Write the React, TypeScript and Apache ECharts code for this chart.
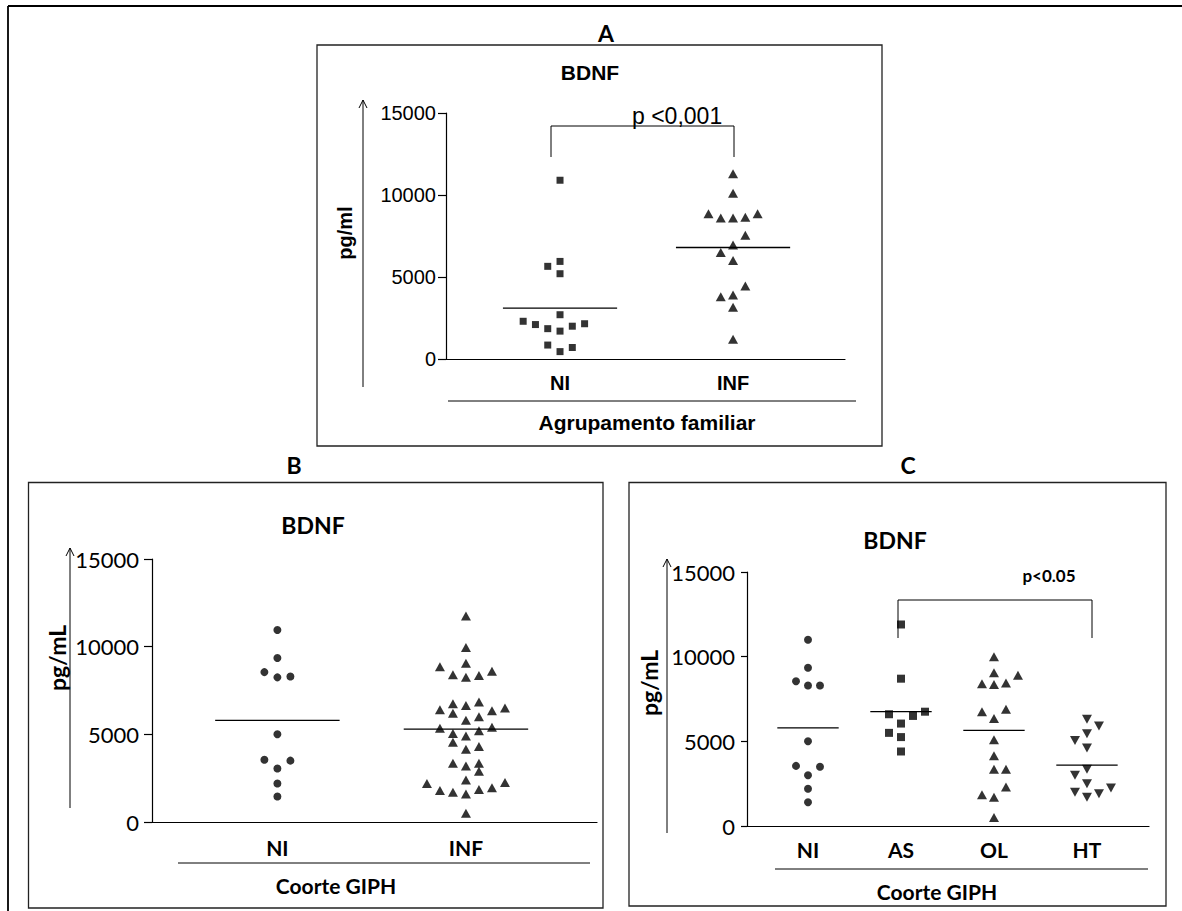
import React, { useEffect, useRef } from "react";
import * as echarts from "echarts";

// ---------- data ----------
const Y_MIN = 0;
const Y_MAX = 15000;
const Y_STEP = 5000;

const A_CATS = ["NI", "INF"];
const B_CATS = ["NI", "INF"];
const C_CATS = ["NI", "AS", "OL", "HT"];

// [column offset (jitter slot), value pg/ml]
const A_NI = [[0, 10900], [-1, 5650], [0, 5950], [0, 5200], [0, 2700], [-3, 2300], [-2, 2100], [-1, 1850], [0, 1700], [1, 2000], [2, 2150], [-1, 850], [1, 700], [0, 450]];
const A_INF = [[0, 11300], [0, 10100], [-2, 8850], [-1, 8600], [0, 8600], [1, 8650], [2, 8850], [1, 7550], [0, 6950], [-1, 6500], [0, 6000], [1, 4450], [-1, 3800], [0, 3900], [0, 3150], [0, 1200]];
const A_MEANS = [3100, 6800];

const B_NI = [[0, 10950], [0, 9350], [-1, 8550], [0, 8250], [1, 8300], [0, 5000], [-1, 3550], [1, 3500], [0, 3050], [0, 2200], [0, 1450]];
const B_INF = [[0, 11750], [0, 9950], [-2, 8850], [0, 9050], [2, 8600], [-1, 8400], [0, 8250], [1, 8350], [-2, 6400], [-1, 6750], [0, 6650], [1, 6850], [2, 6350], [3, 6500], [-1, 6200], [0, 5800], [1, 6000], [-2, 5350], [2, 5400], [-1, 5050], [0, 4900], [1, 5200], [-1, 4550], [0, 4150], [1, 4300], [-1, 3350], [0, 3200], [1, 3350], [1, 2900], [0, 2400], [-3, 2200], [3, 2250], [-2, 1800], [-1, 1700], [0, 1600], [1, 1850], [2, 1950], [0, 500]];
const B_MEANS = [5800, 5300];

const C_NI = [[0, 11000], [0, 9350], [-1, 8550], [0, 8300], [1, 8300], [0, 5000], [-1, 3550], [1, 3500], [0, 3000], [0, 2200], [0, 1400]];
const C_AS = [[0, 11900], [0, 8700], [-1, 6600], [1, 6500], [2, 6750], [0, 6050], [-1, 5500], [0, 5250], [0, 4400]];
const C_OL = [[0, 10000], [0, 9050], [2, 8900], [-1, 8400], [0, 8350], [1, 8450], [-1, 6750], [1, 6900], [0, 6350], [0, 5100], [0, 4150], [0, 3350], [1, 3350], [1, 2300], [-1, 1850], [0, 1700], [0, 500]];
const C_HT = [[0, 6300], [1, 5900], [0, 5450], [-1, 5050], [0, 4600], [0, 3350], [-1, 3000], [0, 2500], [-1, 2000], [0, 1700], [1, 1900], [2, 2250]];
const C_MEANS = [5800, 6750, 5650, 3600];

// ---------- styling ----------
const ARIAL = "'Liberation Sans', Arial, sans-serif";
const CAL = "Lato, 'Open Sans', sans-serif";
const MEAN_HALF = 0.33;

function scatter(ax: number, cat: number, pts: number[][], step: number, symbol: string, size: any, rotate = 0) {
  return {
    type: "scatter",
    xAxisIndex: ax,
    yAxisIndex: ax,
    data: pts.map(([o, v]) => [cat + 1 + o * step, v]),
    symbol,
    symbolSize: size,
    symbolRotate: rotate,
    itemStyle: { color: "#000" },
    silent: true,
  };
}

function means(ax: number, vals: number[]) {
  return vals.map((m, i) => ({
    type: "line",
    xAxisIndex: ax,
    yAxisIndex: ax,
    data: [[i + 1 - MEAN_HALF, m], [i + 1 + MEAN_HALF, m]],
    symbol: "none",
    lineStyle: { color: "#000", width: 1.3 },
    silent: true,
  }));
}

function xAxis(grid: number, min: number, max: number, cats: string[], font: string, size: number, margin: number) {
  return {
    type: "value",
    gridIndex: grid,
    min,
    max,
    axisLine: { show: true, onZero: false, lineStyle: { color: "#000", width: 1.2 } },
    axisTick: { show: false },
    splitLine: { show: false },
    axisLabel: {
      customValues: cats.map((_, i) => i + 1),
      formatter: (v: number) => cats[Math.round(v) - 1] ?? "",
      color: "#000",
      fontFamily: font,
      fontWeight: "bold",
      fontSize: size,
      margin,
      verticalAlign: "middle",
    },
  };
}

function yAxis(grid: number, font: string, size: number, margin: number, tick: number) {
  return {
    type: "value",
    gridIndex: grid,
    min: Y_MIN,
    max: Y_MAX,
    interval: Y_STEP,
    axisLine: { show: true, onZero: false, lineStyle: { color: "#000", width: 1.2 } },
    axisTick: { show: true, length: tick, lineStyle: { color: "#000", width: 1.2 } },
    splitLine: { show: false },
    axisLabel: { color: "#000", fontFamily: font, fontSize: size, margin, formatter: (v: number) => String(v) },
  };
}

function txt(x: number, y: number, text: string, font: string, size: number, weight = "bold", rotation = 0, align = "center") {
  return {
    type: "text",
    x,
    y,
    rotation,
    style: { text, fontFamily: font, fontSize: size, fontWeight: weight, fill: "#000", align, verticalAlign: "middle" },
    silent: true,
  };
}

function ln(x1: number, y1: number, x2: number, y2: number, w = 1.2) {
  return { type: "line", shape: { x1, y1, x2, y2 }, style: { stroke: "#000", lineWidth: w }, silent: true };
}

function poly(points: number[][], w = 1.2) {
  return { type: "polyline", shape: { points }, style: { stroke: "#000", lineWidth: w, fill: null }, silent: true };
}

function box(x: number, y: number, w: number, h: number) {
  return { type: "rect", shape: { x, y, width: w, height: h }, style: { stroke: "#222", lineWidth: 1.3, fill: null }, silent: true };
}

function arrow(x: number, yTop: number, yBot: number) {
  return [ln(x, yBot, x, yTop, 1), poly([[x - 4, yTop + 8], [x, yTop], [x + 4, yTop + 8]], 1)];
}

export default function App() {
  const ref = useRef<HTMLDivElement>(null);
  useEffect(() => {
    if (!ref.current) return;
    const chart = echarts.init(ref.current, undefined, { renderer: "svg" });
    const tri = [10, 9];
    const option: any = {
      animation: false,
      backgroundColor: "#fff",
      grid: [
        { left: 446, top: 113, width: 399, height: 246 },
        { left: 152, top: 559, width: 445, height: 263 },
        { left: 747, top: 572, width: 402, height: 254 },
      ],
      xAxis: [
        xAxis(0, 0.341, 2.647, A_CATS, ARIAL, 20, 24),
        xAxis(1, 0.335, 2.695, B_CATS, CAL, 21, 25),
        xAxis(2, 0.344, 4.667, C_CATS, CAL, 21, 23),
      ],
      yAxis: [
        yAxis(0, ARIAL, 20, 10, 8),
        yAxis(1, CAL, 22, 13, 8),
        yAxis(2, CAL, 22, 12, 6),
      ],
      series: [
        scatter(0, 0, A_NI, 0.071, "rect", 7),
        scatter(0, 1, A_INF, 0.071, "triangle", tri),
        ...means(0, A_MEANS),
        scatter(1, 0, B_NI, 0.069, "circle", 8),
        scatter(1, 1, B_INF, 0.069, "triangle", tri),
        ...means(1, B_MEANS),
        scatter(2, 0, C_NI, 0.129, "circle", 8),
        scatter(2, 1, C_AS, 0.129, "rect", 8),
        scatter(2, 2, C_OL, 0.129, "triangle", tri),
        scatter(2, 3, C_HT, 0.129, "triangle", tri, 180),
        ...means(2, C_MEANS),
      ],
      graphic: [
        // outer frame
        ln(8, 6, 1182, 6, 1.8),
        ln(8, 6, 8, 911, 1.8),
        // panel boxes
        box(317, 45, 565, 401),
        box(28.5, 482.5, 574.5, 425.5),
        box(629, 482.5, 537, 423.5),
        // panel letters
        txt(606, 33, "A", CAL, 23),
        txt(294, 465, "B", CAL, 23),
        txt(908, 465, "C", CAL, 23),
        // titles
        txt(590, 72, "BDNF", ARIAL, 21),
        txt(313, 525, "BDNF", CAL, 23),
        txt(895, 540, "BDNF", CAL, 23),
        // y titles
        txt(345, 233, "pg/ml", ARIAL, 20, "bold", Math.PI / 2),
        txt(57, 658, "pg/mL", CAL, 23, "bold", Math.PI / 2),
        txt(649, 683, "pg/mL", CAL, 23, "bold", Math.PI / 2),
        // arrows
        ...arrow(363, 100, 387),
        ...arrow(70, 548, 808),
        ...arrow(667, 559, 833),
        // separators and x titles
        ln(448, 401, 856, 401, 1),
        txt(647, 422, "Agrupamento familiar", ARIAL, 21),
        ln(178, 863, 590, 863, 1),
        txt(336, 885, "Coorte GIPH", CAL, 21),
        ln(775, 869, 1148, 869, 1),
        txt(937, 891, "Coorte GIPH", CAL, 21),
        // significance brackets
        poly([[551, 157], [551, 126], [734, 126], [734, 157]], 1),
        txt(632, 116, "p <0,001", ARIAL, 23, "normal", 0, "left"),
        poly([[898, 638], [898, 600], [1092, 600], [1092, 638]], 1),
        txt(1049, 575, "p<0.05", CAL, 17),
      ],
    };
    chart.setOption(option);
    return () => chart.dispose();
  }, []);
  return (
    <div
      ref={ref}
      style={{ position: "absolute", left: 0, top: 0, width: 1182, height: 911, background: "#fff" }}
    />
  );
}
